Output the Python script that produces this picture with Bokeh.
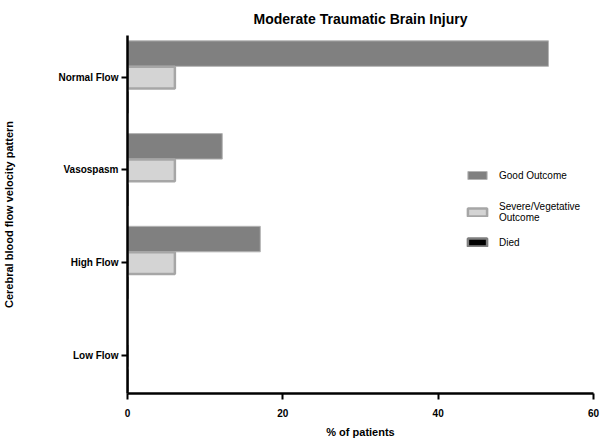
from bokeh.plotting import figure
from bokeh.models import Range1d, FixedTicker, Legend, LegendItem, ColumnDataSource
from bokeh.embed import file_html
from bokeh.resources import INLINE

# ---- data ----
categories = ["Normal Flow", "Vasospasm", "High Flow", "Low Flow"]
good_outcome = [54.2, 12.2, 17.1, 0.0]
severe_vegetative = [6.1, 6.1, 6.1, 0.0]
died = [0.0, 0.0, 0.0, 0.0]
x_ticks = [0, 20, 40, 60]
series_labels = ["Good Outcome", "Severe/Vegetative\nOutcome", "Died"]
title_text = "Moderate Traumatic Brain Injury"

# ---- layout helpers ----
n = len(categories)
pos = [n - 1 - i for i in range(n)]
off_good = 0.255
off_sev = -0.005
off_died = -0.27

FONT = "Liberation Sans"

p = figure(width=608, height=440, output_backend="svg", toolbar_location=None,
           x_range=Range1d(0, 60), y_range=Range1d(-0.41, 3.45),
           min_border_left=127, min_border_right=15, min_border_top=33, min_border_bottom=47,
           title=title_text)
p.background_fill_color = "white"
p.border_fill_color = "white"
p.outline_line_color = None
p.xgrid.grid_line_color = None
p.ygrid.grid_line_color = None

p.title.align = "center"
p.title.vertical_align = "bottom"
p.title.standoff = 17
p.title.text_font = FONT
p.title.text_font_size = "14px"
p.title.text_font_style = "bold"
p.title.text_color = "black"

src_good = ColumnDataSource(dict(y=[v + off_good for v in pos], right=good_outcome))
src_sev = ColumnDataSource(dict(y=[v + off_sev for v in pos], right=severe_vegetative))
src_died = ColumnDataSource(dict(y=[v + off_died for v in pos], right=died))

r1 = p.hbar(y="y", right="right", left=0, height=0.275, source=src_good,
            fill_color="#808080", line_color="#b4b4b4", line_width=1)
r2 = p.hbar(y="y", right="right", left=0, height=0.235, source=src_sev,
            fill_color="#d4d4d4", line_color="#a6a6a6", line_width=2.5)
r3 = p.hbar(y="y", right="right", left=0, height=0.235, source=src_died,
            fill_color="black", line_color="#7f7f7f", line_width=2.5)

# axes
for ax in (p.xaxis[0], p.yaxis[0]):
    ax.axis_line_width = 2.5
    ax.axis_line_color = "black"
    ax.major_tick_line_width = 2
    ax.major_tick_line_color = "black"
    ax.major_tick_in = 0
    ax.major_tick_out = 6
    ax.minor_tick_line_color = None
    ax.major_label_text_font = FONT
    ax.major_label_text_font_size = "10px"
    ax.major_label_text_font_style = "bold"
    ax.major_label_text_color = "black"
    ax.axis_label_text_font = FONT
    ax.axis_label_text_font_size = "11px"
    ax.axis_label_text_font_style = "bold"
    ax.axis_label_text_color = "black"

p.xaxis.ticker = FixedTicker(ticks=x_ticks)
p.xaxis.major_label_standoff = 9
p.xaxis.axis_label = "% of patients"
p.xaxis.axis_label_standoff = 6

p.yaxis.ticker = FixedTicker(ticks=pos)
p.yaxis.major_label_overrides = {v: c for v, c in zip(pos, categories)}
p.yaxis.major_label_standoff = 3
p.yaxis.axis_label = "Cerebral blood flow velocity pattern"
p.yaxis.axis_label_standoff = 40

legend_style = dict(border_line_color=None, background_fill_alpha=0,
                    padding=0, margin=0, spacing=9, glyph_width=24, glyph_height=10,
                    label_standoff=10, label_height=20,
                    label_text_font=FONT, label_text_font_size="10px",
                    label_text_color="black", label_text_line_height=1.7)

legend_top = Legend(items=[LegendItem(label=series_labels[0], renderers=[r1])],
                    location=(338, 208), **legend_style)
legend_bottom = Legend(items=[LegendItem(label=series_labels[1], renderers=[r2]),
                              LegendItem(label=series_labels[2], renderers=[r3])],
                       location=(338, 141), **legend_style)
p.add_layout(legend_top)
p.add_layout(legend_bottom)

open("out.html", "w").write(file_html(p, INLINE))
